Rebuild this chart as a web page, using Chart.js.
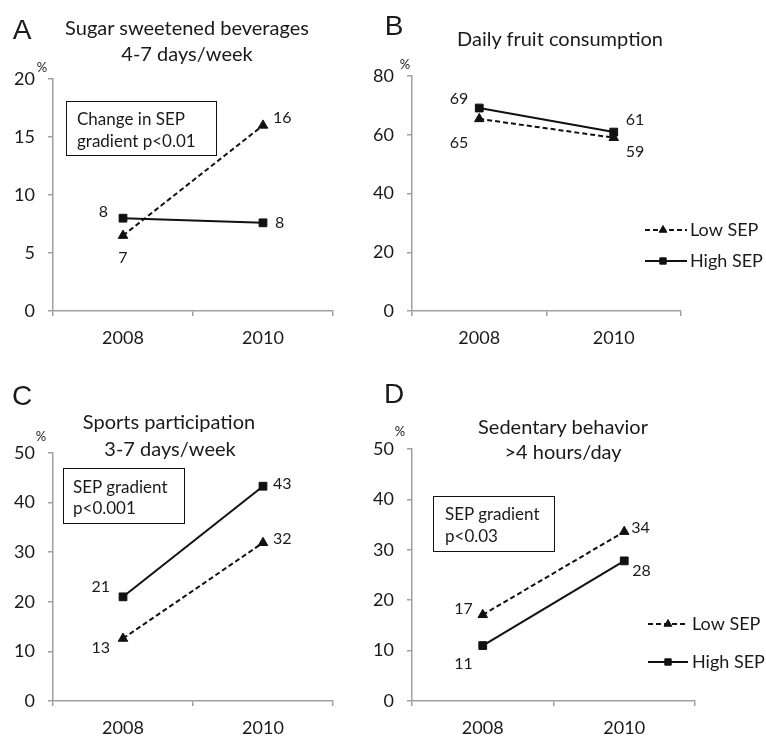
<!DOCTYPE html>
<html>
<head>
<meta charset="utf-8">
<script src="https://cdn.jsdelivr.net/npm/chart.js@4.4.0/dist/chart.umd.min.js"></script>
<style>
  body { margin: 0; background: #fff; }
  #wrap { position: relative; width: 766px; height: 738px; overflow: hidden; font-family: Lato, "Open Sans", sans-serif; color: #1a1a1a; }
  canvas { position: absolute; }
  .t { position: absolute; white-space: nowrap; line-height: 1; transform: translate(-50%, -50%); font-size: 20px; }
  .l { transform: translate(0, -50%); font-size: 17px; }
  .letter { font-family: "Liberation Sans", Arial, sans-serif; font-size: 28px; }
  .pct { font-size: 13px; }
  .box { position: absolute; border: 1.3px solid #111; box-sizing: border-box; }
</style>
</head>
<body>
<div id="wrap">
  <canvas id="cA" width="383" height="369" style="left:0;top:0"></canvas>
  <canvas id="cB" width="413" height="369" style="left:353px;top:0"></canvas>
  <canvas id="cC" width="383" height="369" style="left:0;top:369px"></canvas>
  <canvas id="cD" width="413" height="369" style="left:353px;top:369px"></canvas>

  <div class="t letter" style="left:22px;top:30px">A</div>
  <div class="t" style="left:187px;top:27px">Sugar sweetened beverages</div>
  <div class="t" style="left:187px;top:53px">4-7 days/week</div>
  <div class="t pct" style="left:42px;top:67px">%</div>
  <div class="box" style="left:66px;top:101px;width:151px;height:55px"></div>
  <div class="t l" style="left:77px;top:118px">Change in SEP</div>
  <div class="t l" style="left:77px;top:140px">gradient p&lt;0.01</div>

  <div class="t letter" style="left:394px;top:26px">B</div>
  <div class="t" style="left:560px;top:38px">Daily fruit consumption</div>
  <div class="t pct" style="left:405px;top:64px">%</div>

  <div class="t letter" style="left:22px;top:396px">C</div>
  <div class="t" style="left:169px;top:421px">Sports participation</div>
  <div class="t" style="left:170px;top:448px">3-7 days/week</div>
  <div class="t pct" style="left:41px;top:436px">%</div>
  <div class="box" style="left:63px;top:468px;width:122px;height:56px"></div>
  <div class="t l" style="left:73px;top:486px">SEP gradient</div>
  <div class="t l" style="left:73px;top:507px">p&lt;0.001</div>

  <div class="t letter" style="left:394px;top:394px">D</div>
  <div class="t" style="left:563px;top:426px">Sedentary behavior</div>
  <div class="t" style="left:563px;top:451px">&gt;4 hours/day</div>
  <div class="t pct" style="left:400px;top:431px">%</div>
  <div class="box" style="left:433px;top:496px;width:122px;height:56px"></div>
  <div class="t l" style="left:445px;top:513px">SEP gradient</div>
  <div class="t l" style="left:445px;top:535px">p&lt;0.03</div>
</div>
<script>
// data (% of children)
const years = ['2008', '2010'];
const seriesNames = ['Low SEP', 'High SEP'];

const sugarLow = [6.5, 16.0];
const sugarHigh = [8.0, 7.6];
const fruitLow = [65.4, 59.0];
const fruitHigh = [69.1, 60.9];
const sportsLow = [12.6, 31.9];
const sportsHigh = [21.0, 43.3];
const sedentLow = [17.1, 33.6];
const sedentHigh = [11.0, 27.8];

const ticksSugar = [0, 5, 10, 15, 20];
const ticksFruit = [0, 20, 40, 60, 80];
const ticksSports = [0, 10, 20, 30, 40, 50];
const ticksSedent = [0, 10, 20, 30, 40, 50];

const axisGrey = '#a0a0a0';
const ink = '#111';

// draws the value next to each point
const valueLabels = {
  id: 'valueLabels',
  afterDatasetsDraw(chart, args, opts) {
    const ctx = chart.ctx;
    ctx.save();
    ctx.font = '16px Lato';
    ctx.fillStyle = '#1a1a1a';
    ctx.textBaseline = 'middle';
    chart.data.datasets.forEach((ds, di) => {
      chart.getDatasetMeta(di).data.forEach((pt, i) => {
        const [dx, dy] = opts.offsets[di][i];
        ctx.textAlign = dx < 0 ? 'right' : (dx > 0 ? 'left' : 'center');
        ctx.fillText(String(Math.round(ds.data[i])), pt.x + dx, pt.y + dy);
      });
    });
    ctx.restore();
  }
};

// small line+marker key (panels B and D)
const lineKey = {
  id: 'lineKey',
  afterDraw(chart, args, opts) {
    if (!opts.show) return;
    const ctx = chart.ctx;
    chart.data.datasets.forEach((ds, di) => {
      const y = opts.rows[di];
      ctx.save();
      ctx.strokeStyle = ink;
      ctx.fillStyle = ink;
      ctx.lineWidth = 2;
      ctx.setLineDash(ds.borderDash || []);
      ctx.beginPath();
      ctx.moveTo(opts.x0, y);
      ctx.lineTo(opts.x1, y);
      ctx.stroke();
      ctx.setLineDash([]);
      ctx.lineWidth = 1;
      Chart.helpers.drawPoint(ctx, { pointStyle: ds.pointStyle, radius: 4.5, borderWidth: 1, rotation: 0 }, opts.mark, y);
      ctx.font = '18px Lato';
      ctx.textAlign = 'left';
      ctx.textBaseline = 'middle';
      ctx.fillStyle = '#1a1a1a';
      ctx.fillText(ds.label, opts.textX, y);
      ctx.restore();
    });
  }
};

function makePanel(id, low, high, yTicks, box, offsets, key) {
  const ds = (label, data, dashed, style) => ({
    label: label,
    data: data,
    borderColor: ink,
    borderWidth: 2,
    borderDash: dashed ? [5, 3] : [],
    pointStyle: style,
    pointRadius: 5.5,
    pointBackgroundColor: ink,
    pointBorderColor: ink,
    pointBorderWidth: 1,
    tension: 0
  });
  const tickFont = { family: 'Lato', size: 18 };
  new Chart(document.getElementById(id), {
    type: 'line',
    data: {
      labels: years,
      datasets: [
        ds(seriesNames[0], low, true, 'triangle'),
        ds(seriesNames[1], high, false, 'rect')
      ]
    },
    options: {
      responsive: false,
      animation: false,
      layout: { padding: { top: box.padTop, right: box.padRight, left: 0, bottom: 0 } },
      plugins: {
        legend: { display: false },
        tooltip: { enabled: false },
        valueLabels: { offsets: offsets },
        lineKey: key || { show: false }
      },
      scales: {
        x: {
          offset: true,
          grid: { display: true, drawOnChartArea: false, drawTicks: true, tickLength: 5, color: axisGrey, lineWidth: 1.5, offset: true },
          border: { color: axisGrey, width: 1.5 },
          ticks: { font: tickFont, color: '#1a1a1a', padding: 11, autoSkip: false, maxRotation: 0 },
          afterFit: s => { s.height = box.xH; }
        },
        y: {
          min: yTicks[0],
          max: yTicks[yTicks.length - 1],
          grid: { display: true, drawOnChartArea: false, drawTicks: true, tickLength: 5, color: axisGrey, lineWidth: 1.5 },
          border: { color: axisGrey, width: 1.5 },
          ticks: { font: tickFont, color: '#1a1a1a', padding: 13 },
          afterBuildTicks: s => { s.ticks = yTicks.map(v => ({ value: v })); },
          afterFit: s => { s.width = box.yW; }
        }
      }
    },
    plugins: [valueLabels, lineKey]
  });
}

makePanel('cA', sugarLow, sugarHigh, ticksSugar,
  { yW: 53, padTop: 79, padRight: 50, xH: 58 },
  [[[0, 22], [10, -8]], [[-15, -6], [12, 0]]]);

makePanel('cB', fruitLow, fruitHigh, ticksFruit,
  { yW: 59, padTop: 76, padRight: 85, xH: 58 },
  [[[-11, 24], [12, 14]], [[-11, -9], [12, -12]]],
  { show: true, x0: 292, x1: 334, mark: 310, textX: 337, rows: [230, 261] });

makePanel('cC', sportsLow, sportsHigh, ticksSports,
  { yW: 53, padTop: 84, padRight: 50, xH: 37 },
  [[[-13, 9], [10, -4]], [[-13, -10], [10, -2]]]);

makePanel('cD', sedentLow, sedentHigh, ticksSedent,
  { yW: 59, padTop: 80, padRight: 71, xH: 37 },
  [[[-10, -6], [7, -4]], [[-10, 18], [8, 10]]],
  { show: true, x0: 295, x1: 335, mark: 315, textX: 339, rows: [255, 293] });
</script>
</body>
</html>
